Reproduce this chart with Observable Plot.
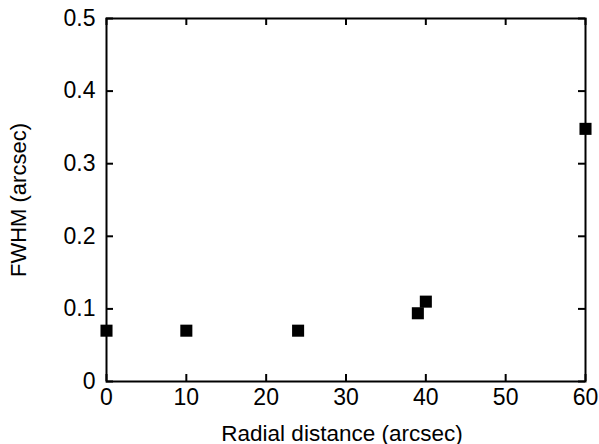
<!DOCTYPE html>
<html>
<head>
<meta charset="utf-8">
<script src="https://cdn.jsdelivr.net/npm/d3@7"></script>
<script src="https://cdn.jsdelivr.net/npm/@observablehq/plot@0.6"></script>
<style>
  html, body { margin: 0; padding: 0; background: #fff; }
</style>
</head>
<body>
<div id="chart"></div>
<script>
const radialDistance = [0, 10, 24, 39, 40, 60];
const fwhm = [0.07, 0.07, 0.07, 0.094, 0.11, 0.348];
const xTicks = [0, 10, 20, 30, 40, 50, 60];
const yTicks = [0, 0.1, 0.2, 0.3, 0.4, 0.5];
const yTickLabels = ["0", "0.1", "0.2", "0.3", "0.4", "0.5"];
const xLabel = "Radial distance (arcsec)";
const yLabel = "FWHM (arcsec)";

const points = radialDistance.map((x, i) => ({x, y: fwhm[i]}));

const W = 599, H = 444;
const mT = 18, mR = 14, mB = 63, mL = 106;
const innerH = H - mT - mB, innerW = W - mL - mR;
const tk = 7;

const chart = Plot.plot({
  width: W,
  height: H,
  marginTop: mT, marginRight: mR, marginBottom: mB, marginLeft: mL,
  style: {fontFamily: "'Liberation Sans', Arial, sans-serif", background: "#fff", color: "#000"},
  x: {domain: [0, 60]},
  y: {domain: [0, 0.5]},
  marks: [
    Plot.tickX(xTicks, {x: d => d, insetTop: innerH - tk, stroke: "#000", strokeWidth: 2}),
    Plot.tickX(xTicks, {x: d => d, insetBottom: innerH - tk, stroke: "#000", strokeWidth: 2}),
    Plot.tickY(yTicks, {y: d => d, insetRight: innerW - tk, stroke: "#000", strokeWidth: 2}),
    Plot.tickY(yTicks, {y: d => d, insetLeft: innerW - tk, stroke: "#000", strokeWidth: 2}),
    Plot.frame({stroke: "#000", strokeWidth: 2}),
    Plot.axisX(xTicks, {tickSize: 0, tickPadding: 7, fontSize: 23, label: null, tickFormat: d => String(d)}),
    Plot.axisY(yTicks, {tickSize: 0, tickPadding: 11, fontSize: 23, label: null, tickFormat: (d, i) => yTickLabels[i]}),
    Plot.text([xLabel], {frameAnchor: "bottom", textAnchor: "middle", lineAnchor: "bottom", dx: -4, dy: 59, fontSize: 22.5, fill: "#000"}),
    Plot.text([yLabel], {frameAnchor: "left", textAnchor: "middle", rotate: -90, lineAnchor: "middle", dx: -88, fontSize: 22, fill: "#000"}),
    Plot.dot(points, {x: "x", y: "y", symbol: "square", r: 6.8, fill: "#000", stroke: "none"})
  ]
});
document.getElementById("chart").appendChild(chart);
</script>
</body>
</html>
